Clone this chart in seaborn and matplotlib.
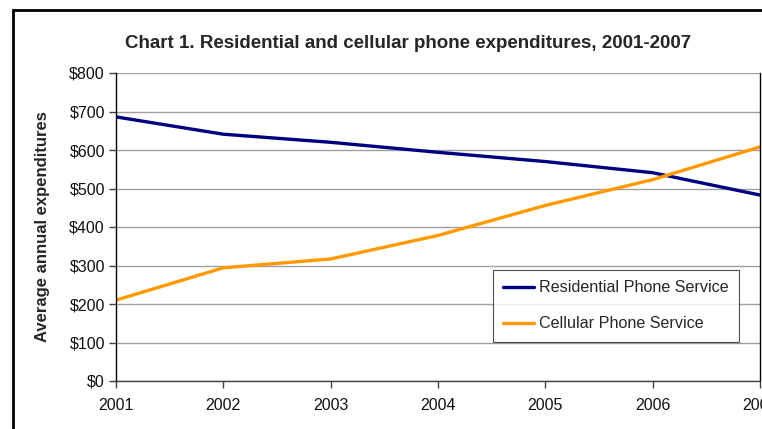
import matplotlib
matplotlib.use("Agg")
import matplotlib.pyplot as plt
import seaborn as sns
import pandas as pd
from matplotlib.patches import Rectangle
from matplotlib.ticker import FuncFormatter

years = [2001, 2002, 2003, 2004, 2005, 2006, 2007]
residential = [686, 641, 620, 594, 570, 541, 483]
cellular = [210, 294, 317, 378, 456, 523, 608]
series_names = ["Residential Phone Service", "Cellular Phone Service"]
colors = ["#000080", "#FF9900"]

df = pd.DataFrame({
    "Year": years * 2,
    "Value": residential + cellular,
    "Series": [series_names[0]] * len(years) + [series_names[1]] * len(years),
})

sns.set_theme(style="white")
plt.rcParams["font.family"] = ["Liberation Sans", "DejaVu Sans"]

fig = plt.figure(figsize=(7.62, 4.29), dpi=100)
ax = fig.add_axes([116 / 762, 1 - 381 / 429, (760 - 116) / 762, (381 - 73) / 429])

sns.lineplot(data=df, x="Year", y="Value", hue="Series", palette=colors,
             linewidth=2.4, ax=ax, legend=True)

ax.set_xlim(2001, 2007)
ax.set_ylim(0, 800)
ax.set_yticks(range(0, 801, 100))
ax.yaxis.set_major_formatter(FuncFormatter(lambda v, p: f"${int(v)}"))
ax.set_xticks(years)
ax.grid(axis="y", color="#a0a0a0", linewidth=1.0)
ax.set_axisbelow(True)
for s in ["top", "right"]:
    ax.spines[s].set_visible(False)
ax.spines["left"].set_color("black")
ax.spines["left"].set_linewidth(1.0)
ax.spines["bottom"].set_color("#404040")
ax.spines["bottom"].set_linewidth(1.0)
ax.axvline(2007, color="black", linewidth=1.0, clip_on=False)
ax.tick_params(axis="both", direction="out", length=5, width=1, color="#404040",
               labelsize=11.5, labelcolor="#111111", bottom=True, left=True, pad=3)
ax.tick_params(axis="x", pad=7)
ax.set_xlabel("")
ax.set_ylabel("Average annual expenditures", fontsize=12, fontweight="bold", labelpad=14)

leg = ax.legend(loc="upper left", bbox_to_anchor=((493 - 116) / 644, (381 - 270) / 308),
                frameon=True, fancybox=False, fontsize=11.6, handlelength=1.9,
                handletextpad=0.3, labelspacing=1.3, borderpad=0.65, borderaxespad=0)
leg.get_frame().set_edgecolor("#222222")
leg.get_frame().set_linewidth(0.8)
for l in leg.get_lines():
    l.set_linewidth(2.4)

fig.text(408 / 762, 1 - 43 / 429, "Chart 1. Residential and cellular phone expenditures, 2001-2007",
         ha="center", va="center", fontsize=13.5, fontweight="bold")

fig.patches.append(Rectangle((13 / 762, -0.1), 1.2, 1 - 10 / 429 + 0.1, transform=fig.transFigure,
                             fill=False, edgecolor="black", linewidth=2))

fig.savefig("out.png", dpi=100)
